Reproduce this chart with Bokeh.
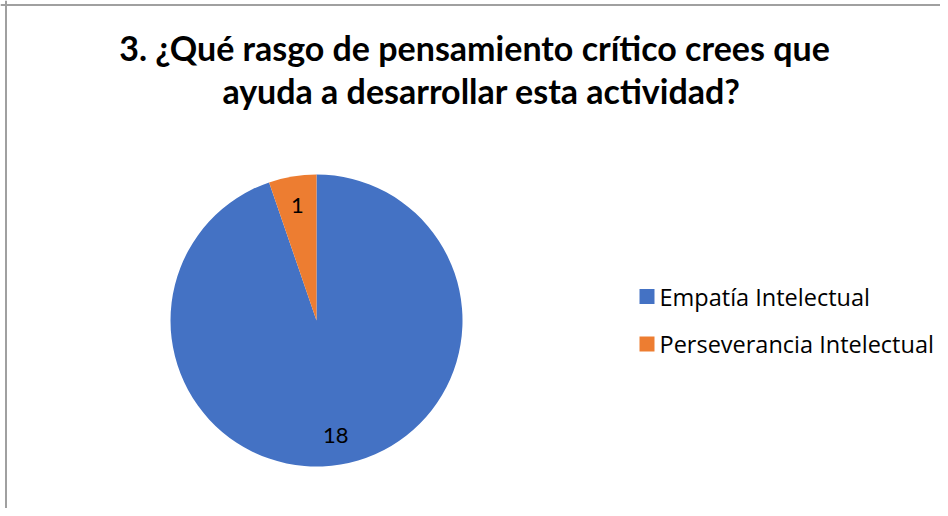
import math
from bokeh.plotting import figure
from bokeh.models import Range1d, Span
from bokeh.embed import file_html
from bokeh.resources import INLINE
from bokeh.core.properties import value

# ---- data ----
title_lines = ["3. ¿Qué rasgo de pensamiento crítico crees que",
               "ayuda a desarrollar esta actividad?"]
categories = ["Empatía Intelectual", "Perseverancia Intelectual"]
counts = [18, 1]
colors = ["#4472C4", "#ED7D31"]

# ---- layout (pixel coordinates, origin at top-left of the figure) ----
W, H = 940, 508

p = figure(width=W, height=H, output_backend="svg", toolbar_location=None,
           x_range=Range1d(0, W), y_range=Range1d(-H, 0),
           min_border=0, min_border_left=0, min_border_right=0,
           min_border_top=0, min_border_bottom=0)
p.axis.visible = False
p.grid.visible = False
p.outline_line_color = None
p.background_fill_color = "white"
p.border_fill_color = "white"

def Y(y):
    return -y

# frame lines (left & top)
p.add_layout(Span(location=5.5, dimension="height", line_color="#a0a0a0", line_width=2))
p.add_layout(Span(location=Y(4.5), dimension="width", line_color="#a0a0a0", line_width=2))

# title
p.text(x=[474, 481], y=[Y(47), Y(90)], text=title_lines, text_align="center",
       text_baseline="alphabetic", text_font=value("Lato"), text_font_style="bold",
       text_font_size="34px", text_color="#000000")

# pie
cx, cy, R = 316, 320, 146
total = sum(counts)
starts, ends, mids = [], [], []
cum = 0.0
for c in counts:
    a0 = cum / total * 2 * math.pi
    cum += c
    a1 = cum / total * 2 * math.pi
    # clockwise from 12 o'clock
    starts.append(math.pi / 2 - a1)
    ends.append(math.pi / 2 - a0)
    mids.append(math.pi / 2 - (a0 + a1) / 2)

p.wedge(x=[cx] * len(counts), y=[Y(cy)] * len(counts), radius=R,
        start_angle=starts, end_angle=ends, fill_color=colors,
        line_color=None, radius_units="data")

# data labels
lr = 0.8 * R
lx = [cx + lr * math.cos(m) for m in mids]
ly = [Y(cy) + lr * math.sin(m) for m in mids]
p.text(x=lx, y=ly, text=[str(c) for c in counts], text_align="center",
       text_baseline="middle", text_font=value("Lato"), text_font_size="22px",
       text_color="#000000")

# legend
leg_x, leg_y0, leg_dy = 639, 296, 47.5
ys = [Y(leg_y0 + i * leg_dy) for i in range(len(categories))]
p.rect(x=[leg_x + 7.5] * len(categories), y=ys, width=15, height=15,
       fill_color=colors, line_color=None)
p.text(x=[leg_x + 20] * len(categories), y=ys, text=categories,
       text_align="left", text_baseline="middle", text_font=value("Open Sans"),
       text_font_size="23.5px", text_color="#000000")

open("out.html", "w").write(file_html(p, INLINE))
